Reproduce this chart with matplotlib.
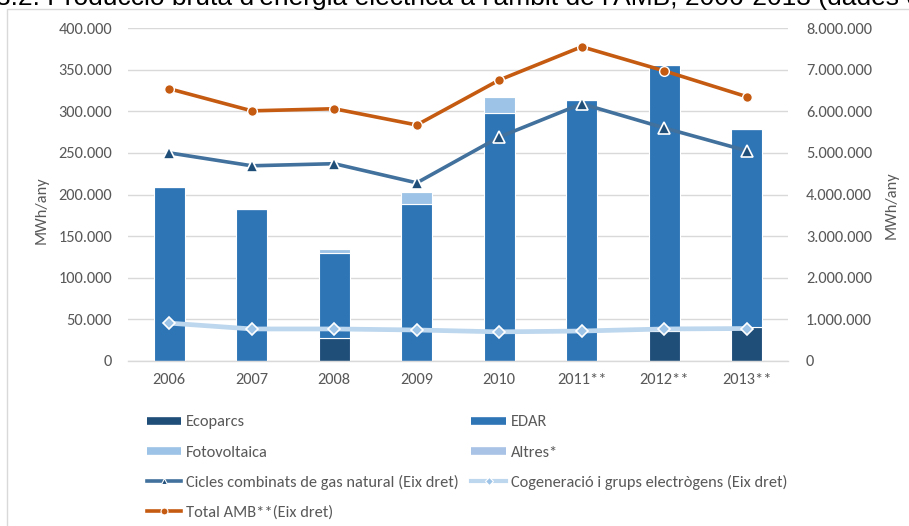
import matplotlib
matplotlib.use("Agg")
import matplotlib.pyplot as plt
from matplotlib.lines import Line2D
from matplotlib.patches import Rectangle
from matplotlib.ticker import FuncFormatter, MultipleLocator
import numpy as np

plt.rcParams['font.family'] = ['Carlito', 'Liberation Sans Narrow', 'DejaVu Sans']

years = ['2006', '2007', '2008', '2009', '2010', '2011**', '2012**', '2013**']
ecoparcs = [0, 0, 28000, 0, 0, 0, 36000, 41000]
edar = [209000, 183000, 102000, 188000, 298000, 314000, 320000, 238000]
fotovoltaica = [0, 0, 4000, 15000, 19000, 0, 0, 0]
altres = [0, 0, 0, 0, 0, 0, 0, 0]
cicles = [5000000, 4690000, 4740000, 4280000, 5380000, 6180000, 5600000, 5050000]
cogeneracio = [910000, 770000, 770000, 745000, 700000, 720000, 770000, 780000]
total_amb = [6540000, 6010000, 6060000, 5670000, 6750000, 7550000, 6970000, 6350000]

title = "3.2. Producció bruta d'energia elèctrica a l'àmbit de l'AMB, 2006-2013 (dades en MWh)"

C_ECO = '#1F4E79'
C_EDAR = '#2E75B6'
C_FOTO = '#9DC3E6'
C_ALT = '#A9C3E6'
C_CIC = '#41719C'
C_COG = '#BDD7EE'
C_TOT = '#C55A11'
TXT = '#595959'
GRID = '#D9D9D9'

W, H = 909, 526
fig = plt.figure(figsize=(W / 100, H / 100), dpi=100)
ax = fig.add_axes([128 / W, 1 - 361 / H, 660 / W, 333 / H])
ax2 = ax.twinx()

x = np.arange(len(years))
bw = 0.38
eco = np.array(ecoparcs, float)
ed = np.array(edar, float)
fo = np.array(fotovoltaica, float)
al = np.array(altres, float)
kw = dict(width=bw, edgecolor='white', linewidth=0.8, zorder=2)
ax.bar(x, eco, color=C_ECO, **kw)
ax.bar(x, ed, bottom=eco, color=C_EDAR, **kw)
ax.bar(x, fo, bottom=eco + ed, color=C_FOTO, **kw)
ax.bar(x, al, bottom=eco + ed + fo, color=C_ALT, **kw)

ax2.plot(x, cogeneracio, color=C_COG, lw=3.4, marker='D', ms=6.5,
         mfc=C_FOTO, mec='white', mew=1.2, zorder=3)
ax2.plot(x, cicles, color=C_CIC, lw=2.6, marker='^', ms=8,
         mfc=C_ECO, mec='white', mew=1.2, zorder=4)
ax2.plot(x, total_amb, color=C_TOT, lw=2.6, marker='o', ms=7,
         mfc=C_TOT, mec='white', mew=1.0, zorder=5)

ax.set_xlim(-0.5, len(years) - 0.5)
ax.set_ylim(0, 400000)
ax2.set_ylim(0, 8000000)
ax.yaxis.set_major_locator(MultipleLocator(50000))
ax2.yaxis.set_major_locator(MultipleLocator(1000000))
fmt = FuncFormatter(lambda v, p: f"{int(round(v)):,}".replace(',', '.'))
ax.yaxis.set_major_formatter(fmt)
ax2.yaxis.set_major_formatter(fmt)
ax.set_xticks(x)
ax.set_xticklabels(years)

ax.grid(axis='y', color=GRID, lw=1.0, zorder=0)
ax.set_axisbelow(True)
for a in (ax, ax2):
    for s in a.spines.values():
        s.set_visible(False)
ax.spines['bottom'].set_visible(True)
ax.spines['bottom'].set_color(GRID)
ax.spines['bottom'].set_linewidth(1.0)
ax.tick_params(axis='both', length=0, colors=TXT, labelsize=11.8)
ax.tick_params(axis='y', pad=11.5)
ax.tick_params(axis='x', pad=9)
ax2.tick_params(axis='y', length=0, colors=TXT, labelsize=11.8, pad=13)

fig.text(42 / W, 1 - 210 / H, 'MWh/any', rotation=90, ha='center', va='center',
         color=TXT, fontsize=11.8)
fig.text(892 / W, 1 - 205 / H, 'MWh/any', rotation=90, ha='center', va='center',
         color=TXT, fontsize=11.8)

# legend (matplotlib fills columns first: order so rows read as in the reference)
h_eco = Line2D([], [], color=C_ECO, lw=5.5, solid_capstyle='butt')
h_edar = Line2D([], [], color=C_EDAR, lw=5.5, solid_capstyle='butt')
h_foto = Line2D([], [], color=C_FOTO, lw=5.5, solid_capstyle='butt')
h_alt = Line2D([], [], color=C_ALT, lw=5.5, solid_capstyle='butt')
h_cic = Line2D([], [], color=C_CIC, lw=2.6, marker='^', ms=5, mfc=C_ECO, mec='white', mew=0.8)
h_cog = Line2D([], [], color=C_COG, lw=3.0, marker='D', ms=4, mfc=C_FOTO, mec='white', mew=0.8)
h_tot = Line2D([], [], color=C_TOT, lw=2.6, marker='o', ms=5, mfc=C_TOT, mec='white', mew=0.8)
handles = [h_eco, h_foto, h_cic, h_tot, h_edar, h_alt, h_cog]
labels = ['Ecoparcs', 'Fotovoltaica',
          'Cicles combinats de gas natural (Eix dret)', 'Total AMB**(Eix dret)',
          'EDAR', 'Altres*', 'Cogeneració i grups electrògens (Eix dret)']
leg = fig.legend(handles, labels, ncol=2, loc='upper left',
                 bbox_to_anchor=(147 / W, 1 - 415 / H), frameon=False,
                 fontsize=11.8, handlelength=2.1, handletextpad=0.3,
                 labelspacing=0.95, columnspacing=0.75, borderpad=0,
                 borderaxespad=0)
for t in leg.get_texts():
    t.set_color(TXT)

# chart border (partly cropped)
fig.patches.append(Rectangle((7 / W, -0.1), 1.2, 1 - 9 / H + 0.1,
                             transform=fig.transFigure, fill=False,
                             edgecolor=GRID, lw=1.0, zorder=0))
# cropped title at the very top (cut off in the reference too)
fig.text(-4 / W, 1 - 5 / H, title, ha='left', va='baseline', color='black',
         fontsize=19.0, family=['Liberation Sans', 'DejaVu Sans'])

fig.savefig('out.png', dpi=100)
